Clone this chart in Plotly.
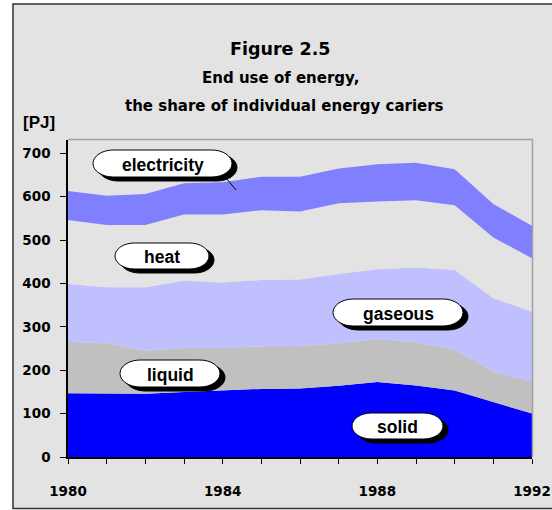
import plotly.graph_objects as go

years = list(range(1980, 1993))
solid = [147, 147, 146, 150, 153, 157, 158, 164, 173, 165, 153, 127, 100]
liquid = [118, 115, 99, 101, 98, 98, 98, 98, 99, 99, 94, 70, 73]
gaseous = [134, 129, 146, 155, 151, 153, 153, 160, 161, 173, 184, 169, 162]
heat = [147, 144, 144, 153, 157, 161, 157, 163, 156, 155, 149, 140, 123]
electricity = [67, 67, 71, 72, 74, 77, 80, 80, 86, 86, 83, 77, 75]

series_names = ["solid", "liquid", "gaseous", "heat", "electricity"]
series_vals = [solid, liquid, gaseous, heat, electricity]
series_cols = ["#0000FF", "#C0C0C0", "#C0C0FF", "#E3E3E3", "#8080FF"]

y_ticks = [0, 100, 200, 300, 400, 500, 600, 700]
x_tick_labels = {1980: "1980", 1984: "1984", 1988: "1988", 1992: "1992"}

W, H = 552, 510
L, R, T, B = 68, 532, 140, 457  # plot area in window pixels

def px(x):
    return (x - L) / (R - L)

def py(y):
    return (B - y) / (B - T)

fig = go.Figure()
for name, vals, col in zip(series_names, series_vals, series_cols):
    fig.add_trace(go.Scatter(
        x=years, y=vals, name=name, stackgroup="one", mode="lines",
        line=dict(width=0, color=col), fillcolor=col, hoverinfo="x+y+name"))

TICKFONT = dict(family="DejaVu Sans", size=13.5, color="#000")

def pill_path(x0, y0, x1, y1):
    ry = (y1 - y0) / 2.0
    rx = ry * 1.5
    ym = (y0 + y1) / 2.0
    k = 0.5523
    def P(x, y):
        return f"{px(x):.5f},{py(y):.5f}"
    d = f"M {P(x0 + rx, y0)} L {P(x1 - rx, y0)} "
    d += f"C {P(x1 - rx + k * rx, y0)} {P(x1, ym - k * ry)} {P(x1, ym)} "
    d += f"C {P(x1, ym + k * ry)} {P(x1 - rx + k * rx, y1)} {P(x1 - rx, y1)} "
    d += f"L {P(x0 + rx, y1)} "
    d += f"C {P(x0 + rx - k * rx, y1)} {P(x0, ym + k * ry)} {P(x0, ym)} "
    d += f"C {P(x0, ym - k * ry)} {P(x0 + rx - k * rx, y0)} {P(x0 + rx, y0)} Z"
    return d

shapes = []
# outer grey frame
shapes.append(dict(type="rect", xref="paper", yref="paper",
                   x0=px(13), x1=px(620), y0=py(508.5), y1=py(4),
                   fillcolor="#E3E3E3", line=dict(color="#333", width=1.5),
                   layer="below"))
# plot border (top and right)
shapes.append(dict(type="line", xref="paper", yref="paper",
                   x0=px(68), x1=px(532.5), y0=py(139.5), y1=py(139.5),
                   line=dict(color="#A0A0A0", width=1.5), layer="above"))
shapes.append(dict(type="line", xref="paper", yref="paper",
                   x0=px(532.5), x1=px(532.5), y0=py(139.5), y1=py(457),
                   line=dict(color="#A0A0A0", width=1.5), layer="above"))
# pointer line for electricity
shapes.append(dict(type="line", xref="paper", yref="paper",
                   x0=px(221), x1=px(236), y0=py(172), y1=py(190),
                   line=dict(color="#000", width=1), layer="above"))

labels = [
    ("electricity", 93, 150, 232, 177),
    ("heat", 115, 243, 209, 269),
    ("gaseous", 333, 299, 463, 326),
    ("liquid", 120, 360, 220, 387),
    ("solid", 352, 413, 443, 439),
]
annotations = []
for text, x0, y0, x1, y1 in labels:
    shapes.append(dict(type="path", xref="paper", yref="paper",
                       path=pill_path(x0 + 5, y0 + 4, x1 + 5, y1 + 4),
                       fillcolor="#000", line=dict(color="#000", width=1),
                       layer="above"))
    shapes.append(dict(type="path", xref="paper", yref="paper",
                       path=pill_path(x0, y0, x1, y1),
                       fillcolor="#FFF", line=dict(color="#000", width=1),
                       layer="above"))
    annotations.append(dict(text=f"<b>{text}</b>", xref="paper", yref="paper",
                            x=px((x0 + x1) / 2), y=py((y0 + y1) / 2 + 1),
                            xanchor="center", yanchor="middle", showarrow=False,
                            font=dict(family="Liberation Sans", size=17.5, color="#000")))

annotations += [
    dict(text="<b>Figure 2.5</b>", xref="paper", yref="paper", x=px(280), y=py(49),
         xanchor="center", yanchor="middle", showarrow=False,
         font=dict(family="DejaVu Sans", size=17.5, color="#000")),
    dict(text="<b>End use of energy,</b>", xref="paper", yref="paper", x=px(280), y=py(78),
         xanchor="center", yanchor="middle", showarrow=False,
         font=dict(family="DejaVu Sans", size=15, color="#000")),
    dict(text="<b>the share of individual energy cariers</b>", xref="paper", yref="paper",
         x=px(284), y=py(106), xanchor="center", yanchor="middle", showarrow=False,
         font=dict(family="DejaVu Sans", size=15, color="#000")),
    dict(text="<b>[PJ]</b>", xref="paper", yref="paper", x=px(21), y=py(123),
         xanchor="left", yanchor="middle", showarrow=False,
         font=dict(family="Liberation Sans", size=17, color="#000")),
]

fig.update_layout(
    width=W, height=H,
    margin=dict(l=L, r=W - R, t=T, b=H - B, pad=0, autoexpand=False),
    paper_bgcolor="#FFFFFF", plot_bgcolor="#FFFFFF",
    showlegend=False,
    shapes=shapes, annotations=annotations,
    xaxis=dict(range=[1980, 1992], tickmode="array", tickvals=years,
               ticktext=[f"<b>{x_tick_labels[y]}</b>" if y in x_tick_labels else "" for y in years],
               ticks="outside", ticklen=5, tickcolor="#000", tickwidth=1,
               showline=True, linecolor="#000", linewidth=1.5,
               showgrid=False, zeroline=False, tickfont=TICKFONT,
               ticklabelstandoff=16, automargin=False),
    yaxis=dict(range=[0, (B - T) / ((B - 153.3) / 700)], tickmode="array", tickvals=y_ticks,
               ticktext=[f"<b>{v}</b>" for v in y_ticks],
               ticks="outside", ticklen=6, tickcolor="#000", tickwidth=1,
               showline=True, linecolor="#000", linewidth=1.5,
               showgrid=False, zeroline=False, tickfont=TICKFONT,
               ticklabelstandoff=7, automargin=False),
)

fig.write_html("out.html", config={"displayModeBar": False},
               post_script="document.body.style.margin='0';document.body.style.overflow='hidden';")
